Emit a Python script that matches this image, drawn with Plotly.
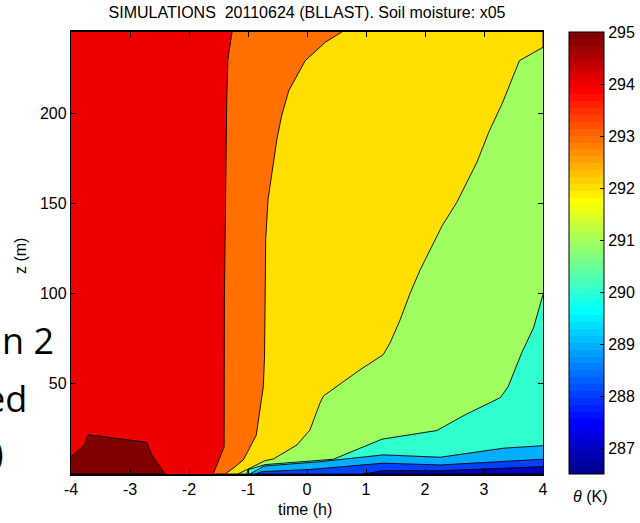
import plotly.graph_objects as go

# ---- axes / colour range ----
T_MIN, T_MAX = -4.0, 4.0
Z_TOP = 245.0
THETA_MIN, THETA_MAX = 286.5, 295.0

x_ticks = [-4, -3, -2, -1, 0, 1, 2, 3, 4]
x_ticklabels = ["-4", "-3", "-2", "-1", "0", "1", "2", "3", "4"]
y_ticks = [50, 100, 150, 200]
cb_ticks = [287, 288, 289, 290, 291, 292, 293, 294, 295]

# ---- isotherms of potential temperature: time (h) and height (m) ----
# 295 K: closed warm pocket near the ground on the left
iso295_t = [-4.0, -3.77, -3.71, -2.72, -2.63, -2.41]
iso295_z = [9.7, 16.1, 21.8, 17.6, 10.5, 0.0]

# 294 K
iso294_t = [-1.27, -1.34, -1.36, -1.38, -1.40, -1.405, -1.48, -1.59]
iso294_z = [245.0, 230.0, 208.0, 163.0, 97.0, 15.0, 9.0, 0.0]

# 293 K
iso293_t = [0.59, 0.31, -0.03, -0.31, -0.43, -0.51, -0.66, -0.70, -0.71,
            -0.72, -0.74, -0.80, -0.86, -0.99, -1.08, -1.25, -1.39]
iso293_z = [245.0, 239.3, 229.1, 212.4, 198.5, 185.6, 152.2, 130.0, 96.7,
            65.0, 48.5, 33.8, 21.5, 13.3, 7.8, 3.2, 0.0]

# 292 K
iso292_t = [4.0, 3.60, 3.31, 3.08, 2.88, 2.71, 2.54, 2.29, 2.17, 1.92, 1.75,
            1.58, 1.41, 1.29, 0.90, 0.28, 0.22, 0.05, -0.17, -0.57, -0.71,
            -1.02, -1.17]
iso292_z = [236.5, 229.1, 205.5, 189.4, 172.8, 161.7, 150.6, 137.6, 130.0,
            113.3, 100.4, 85.6, 72.8, 66.1, 57.8, 43.3, 39.3, 24.4, 16.1, 8.3,
            7.4, 2.2, 0.0]

# 291 K
iso291_t = [4.0, 3.84, 3.64, 3.41, 3.28, 2.68, 2.20, 1.27, 0.90, 0.45,
            -0.71, -1.00, -1.02]
iso291_z = [99.5, 81.1, 67.2, 48.5, 42.4, 32.8, 24.1, 19.3, 14.3, 8.2,
            5.2, 2.4, 0.0]

# 290 K
iso290_t = [4.0, 3.33, 2.26, 1.29, 0.22, -0.73, -0.97]
iso290_z = [15.7, 14.3, 9.3, 10.6, 6.8, 4.4, 0.0]

# 289 K
iso289_t = [4.0, 2.26, 1.29, 0.05, -0.77, -0.87]
iso289_z = [8.2, 5.0, 6.0, 2.5, 1.3, 0.0]

# 288 K
iso288_t = [4.0, 2.26, 1.29, 0.96]
iso288_z = [4.1, 1.8, 1.9, 0.0]


def jet64():
    """MATLAB-style jet colormap with 64 entries."""
    cols = []
    for i in range(1, 65):
        if i <= 24:
            r = 0.0
        elif i <= 40:
            r = (i - 24) / 16
        elif i <= 55:
            r = 1.0
        else:
            r = (72 - i) / 16
        if i <= 8:
            g = 0.0
        elif i <= 24:
            g = (i - 8) / 16
        elif i <= 39:
            g = 1.0
        elif i <= 55:
            g = (56 - i) / 16
        else:
            g = 0.0
        if i <= 8:
            b = (i + 8) / 16
        elif i <= 23:
            b = 1.0
        elif i <= 39:
            b = (40 - i) / 16
        else:
            b = 0.0
        cols.append("rgb(%d,%d,%d)" % (round(255 * r), round(255 * g), round(255 * b)))
    return cols


JET = jet64()


def level_color(v):
    k = int((v - THETA_MIN) / (THETA_MAX - THETA_MIN) * 64)
    return JET[max(0, min(63, k))]


colorscale = []
for k, c in enumerate(JET):
    colorscale.append([k / 64, c])
    colorscale.append([(k + 1) / 64, c])

LINE = dict(color="black", width=0.9)
fig = go.Figure()

# whole domain: 294-295 K layer
fig.add_trace(go.Scatter(
    x=[T_MIN, T_MAX, T_MAX, T_MIN], y=[0, 0, Z_TOP, Z_TOP],
    fill="toself", fillcolor=level_color(294), mode="lines",
    line=dict(width=0), hoverinfo="skip", showlegend=False))

# warm pocket (> 295 K)
fig.add_trace(go.Scatter(
    x=iso295_t + [T_MIN], y=iso295_z + [0.0],
    fill="toself", fillcolor=level_color(295), mode="lines",
    line=LINE, hoverinfo="skip", showlegend=False))

# colder layers, each bounded by its isotherm and the right/bottom edges
layers = [
    (293, iso294_t, iso294_z, True),
    (292, iso293_t, iso293_z, True),
    (291, iso292_t, iso292_z, False),
    (290, iso291_t, iso291_z, False),
    (289, iso290_t, iso290_z, False),
    (288, iso289_t, iso289_z, False),
    (287, iso288_t, iso288_z, False),
]
for lev, ts, zs, from_top in layers:
    if from_top:
        xs = ts + [T_MAX, T_MAX]
        ys = zs + [0.0, Z_TOP]
    else:
        xs = ts + [T_MAX]
        ys = zs + [0.0]
    fig.add_trace(go.Scatter(
        x=xs, y=ys, fill="toself", fillcolor=level_color(lev), mode="lines",
        line=LINE, hoverinfo="skip", showlegend=False))

# colour bar
CB_LEFT_PX, CB_THICK = 569, 35
fig.add_trace(go.Scatter(
    x=[None], y=[None], mode="markers", hoverinfo="skip", showlegend=False,
    marker=dict(
        color=[THETA_MIN], cmin=THETA_MIN, cmax=THETA_MAX,
        colorscale=colorscale, showscale=True,
        colorbar=dict(
            x=(CB_LEFT_PX - 71) / 472, xanchor="left", xpad=0,
            y=0.5, yanchor="middle", ypad=0,
            len=1, lenmode="fraction",
            thickness=CB_THICK, thicknessmode="pixels",
            outlinewidth=1, outlinecolor="black",
            tickvals=cb_ticks, ticks="inside", ticklen=4,
            tickcolor="black", tickwidth=1,
            tickfont=dict(family="Liberation Sans, Arial", size=16, color="black"),
        ),
    ),
))

AX_FONT = dict(family="Liberation Sans, Arial", size=16, color="black")
fig.update_xaxes(
    range=[T_MIN, T_MAX], tickvals=x_ticks, ticktext=x_ticklabels,
    ticks="inside", ticklen=5, tickwidth=1, tickcolor="black",
    showline=True, linecolor="black", linewidth=1.6, mirror="ticks",
    showgrid=False, zeroline=False, tickfont=AX_FONT,
)
fig.update_yaxes(
    range=[0, Z_TOP], tickvals=y_ticks,
    ticks="inside", ticklen=5, tickwidth=1, tickcolor="black",
    showline=True, linecolor="black", linewidth=1.3, mirror="ticks",
    showgrid=False, zeroline=False, tickfont=AX_FONT,
)


def px_x(px):
    return (px - 71) / 472


def px_y(py):
    return (474 - py) / 442


# tick marks on the left side of the colour bar, at the same values
shapes = []
for v in cb_ticks[:-1]:
    yv = (v - THETA_MIN) / (THETA_MAX - THETA_MIN)
    shapes.append(dict(
        type="line", xref="paper", yref="paper",
        x0=px_x(CB_LEFT_PX), x1=px_x(CB_LEFT_PX + 4), y0=yv, y1=yv,
        line=dict(color="black", width=1), layer="above"))

annotations = [
    dict(text="time (h)", x=px_x(305), y=px_y(510), xanchor="center",
         yanchor="middle", font=AX_FONT),
    dict(text="z (m)", x=px_x(20), y=px_y(256), xanchor="center",
         yanchor="middle", textangle=-90, font=AX_FONT),
    dict(text="<i>θ</i> (K)", x=px_x(590), y=px_y(496), xanchor="center",
         yanchor="middle", font=AX_FONT),
    dict(text="n 2", x=px_x(56), y=px_y(340), xanchor="right",
         yanchor="middle", font=dict(family="Open Sans", size=36, color="black")),
    dict(text="ed", x=px_x(29), y=px_y(398), xanchor="right",
         yanchor="middle", font=dict(family="Open Sans", size=36, color="black")),
    dict(text=")", x=px_x(6), y=px_y(452), xanchor="right",
         yanchor="middle", font=dict(family="Open Sans", size=36, color="black")),
]
for a in annotations:
    a.update(xref="paper", yref="paper", showarrow=False)

fig.update_layout(
    width=640, height=523,
    margin=dict(l=71, r=97, t=32, b=49, autoexpand=False),
    paper_bgcolor="white", plot_bgcolor="white",
    title=dict(
        text="SIMULATIONS\u00a0 20110624 (BLLAST). Soil moisture: x05",
        x=px_x(307), xref="paper", xanchor="center",
        y=1 - 12.5 / 523, yref="container", yanchor="middle",
        font=dict(family="Liberation Sans, Arial", size=16, color="black"),
    ),
    annotations=annotations,
    shapes=shapes,
    showlegend=False,
)

fig.write_html("out.html")
